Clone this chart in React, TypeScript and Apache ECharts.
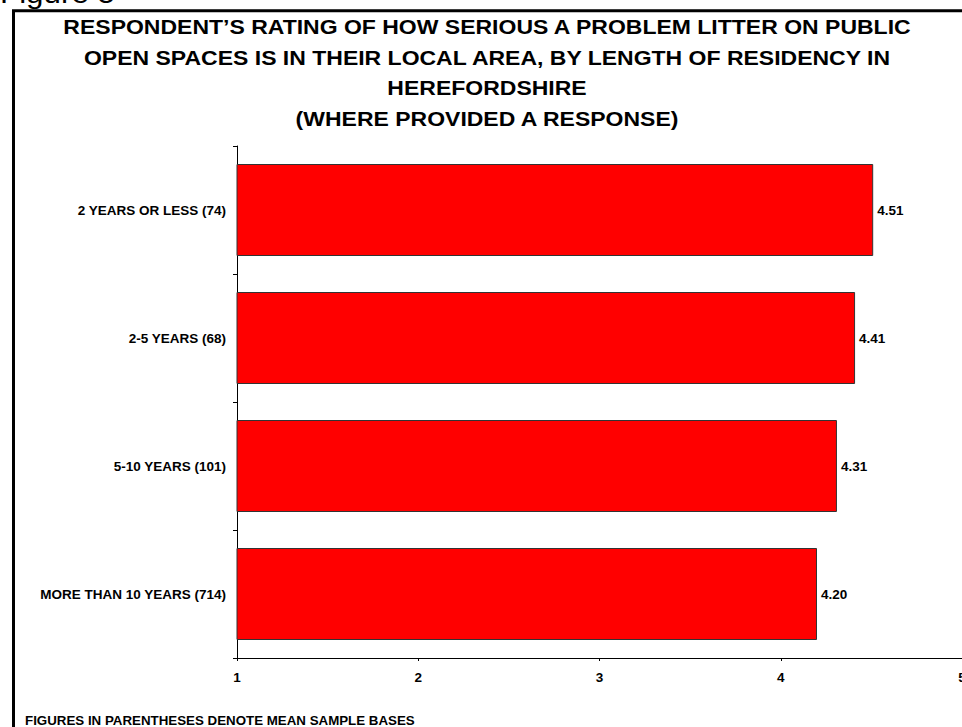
import React, { useEffect, useRef } from "react";
import * as echarts from "echarts";

const categories = [
  "MORE THAN 10 YEARS (714)",
  "5-10 YEARS (101)",
  "2-5 YEARS (68)",
  "2 YEARS OR LESS (74)",
];
const meanRatings = [4.2, 4.31, 4.41, 4.51];
const xTicks = [1, 2, 3, 4, 5];
const titleLines = [
  "RESPONDENT\u2019S RATING OF HOW SERIOUS A PROBLEM LITTER ON PUBLIC",
  "OPEN SPACES IS IN THEIR LOCAL AREA, BY LENGTH OF RESIDENCY IN",
  "HEREFORDSHIRE",
  "(WHERE PROVIDED A RESPONSE)",
];
const footnote = "FIGURES IN PARENTHESES DENOTE MEAN SAMPLE BASES";
const figureLabel = "Figure 5";

export default function App() {
  const ref = useRef<HTMLDivElement>(null);
  useEffect(() => {
    if (!ref.current) return;
    const chart = echarts.init(ref.current, null, { renderer: "svg" });
    const font = "Arial, 'Liberation Sans', sans-serif";
    chart.setOption({
      animation: false,
      backgroundColor: "#ffffff",
      textStyle: { fontFamily: font },
      graphic: [
        {
          type: "rect",
          shape: { x: 13.5, y: 10.8, width: 1000, height: 800 },
          style: { fill: "none", stroke: "#000", lineWidth: 3 },
          silent: true,
        },
        {
          type: "text",
          x: 0,
          y: -6.5,
          scaleX: 1.12,
          style: {
            text: figureLabel,
            font: `28px ${font}`,
            fill: "#000",
            textVerticalAlign: "middle",
          },
        },
        ...titleLines.map((t, i) => ({
          type: "text",
          x: 487,
          y: 27 + i * 30.5,
          scaleX: 1.095,
          style: {
            text: t,
            font: `bold 21px ${font}`,
            fill: "#000",
            textAlign: "center",
            textVerticalAlign: "middle",
          },
        })),
        {
          type: "text",
          x: 25,
          y: 720.5,
          scaleX: 1.025,
          style: {
            text: footnote,
            font: `bold 13px ${font}`,
            fill: "#000",
            textVerticalAlign: "middle",
          },
        },
      ],
      grid: {
        left: 237,
        right: 0,
        top: 146,
        bottom: 69,
        containLabel: false,
        outerBoundsMode: "none",
      },
      xAxis: {
        type: "value",
        min: 1,
        max: 5,
        interval: 1,
        splitLine: { show: false },
        axisLine: { show: true, lineStyle: { color: "#000", width: 1 } },
        axisTick: { show: true, length: 3, lineStyle: { color: "#000" } },
        axisLabel: {
          color: "#000",
          fontWeight: "bold",
          fontSize: 13.5,
          margin: 12,
          fontFamily: font,
          formatter: (v: number) => (xTicks.includes(v) ? String(v) : ""),
        },
      },
      yAxis: {
        type: "category",
        data: categories,
        axisLine: { show: true, lineStyle: { color: "#000", width: 1 } },
        axisTick: { show: true, length: 4, lineStyle: { color: "#000" } },
        axisLabel: {
          color: "#000",
          fontWeight: "bold",
          fontSize: 13.5,
          margin: 11,
          fontFamily: font,
        },
      },
      series: [
        {
          type: "bar",
          data: meanRatings,
          barWidth: 92,
          itemStyle: { color: "#ff0000", borderColor: "#333", borderWidth: 1 },
          label: {
            show: true,
            position: "right",
            distance: 4,
            color: "#000",
            fontWeight: "bold",
            fontSize: 13.5,
            fontFamily: font,
            formatter: (p: any) => Number(p.value).toFixed(2),
          },
        },
      ],
    });
    return () => chart.dispose();
  }, []);
  return (
    <div
      ref={ref}
      style={{ position: "absolute", left: 0, top: 0, width: 962, height: 727 }}
    />
  );
}
